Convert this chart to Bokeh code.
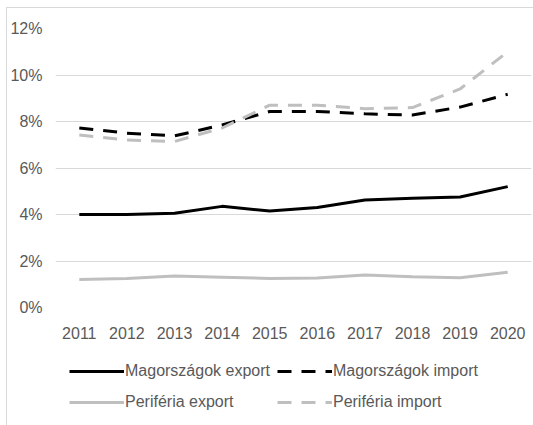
from bokeh.plotting import figure
from bokeh.layouts import column
from bokeh.models import (FactorRange, Range1d, FixedTicker, PrintfTickFormatter,
                          Legend, LegendItem)
from bokeh.embed import file_html
from bokeh.resources import INLINE

years = ["2011", "2012", "2013", "2014", "2015", "2016", "2017", "2018", "2019", "2020"]
mag_export = [4.0, 4.0, 4.05, 4.35, 4.15, 4.3, 4.62, 4.7, 4.75, 5.2]
mag_import = [7.72, 7.5, 7.38, 7.85, 8.43, 8.43, 8.33, 8.28, 8.62, 9.17]
per_export = [1.2, 1.25, 1.35, 1.3, 1.25, 1.27, 1.4, 1.32, 1.28, 1.52]
per_import = [7.42, 7.2, 7.14, 7.72, 8.7, 8.7, 8.55, 8.6, 9.4, 11.0]
y_ticks = [0, 2, 4, 6, 8, 10, 12]
series_names = ["Magországok export", "Magországok import", "Periféria export", "Periféria import"]

FONT = "Liberation Sans"
TXT = "#595959"
GRID = "#d9d9d9"
styles_ = [dict(line_color="#000000", line_width=3),
           dict(line_color="#000000", line_width=3, line_dash="14 10"),
           dict(line_color="#bfbfbf", line_width=3),
           dict(line_color="#bfbfbf", line_width=3, line_dash="14 10")]
series = [mag_export, mag_import, per_export, per_import]

# main chart
p = figure(frame_width=476, frame_height=279, x_range=FactorRange(factors=years, range_padding=0),
           y_range=Range1d(0, 12), output_backend="svg", toolbar_location=None,
           min_border_left=47, min_border_right=3, min_border_top=20, min_border_bottom=40)
p.outline_line_color = None

p.xgrid.grid_line_color = None
p.ygrid.grid_line_color = GRID
p.ygrid.grid_line_width = 1
p.yaxis.ticker = FixedTicker(ticks=y_ticks)
p.yaxis.formatter = PrintfTickFormatter(format="%d%%")
for ax in (p.xaxis[0], p.yaxis[0]):
    ax.axis_line_color = None
    ax.major_tick_line_color = None
    ax.minor_tick_line_color = None
    ax.major_label_text_font = FONT
    ax.major_label_text_font_size = "16px"
    ax.major_label_text_color = TXT
p.yaxis.major_tick_out = 0
p.yaxis.major_tick_in = 0
p.yaxis.minor_tick_out = 0
p.yaxis.major_label_standoff = 13
p.xaxis.major_label_standoff = 13

for vals, st in zip(series, styles_):
    p.line(years, vals, **st)

# legend strip below the chart
q = figure(width=526, height=78, x_range=FactorRange(factors=years), y_range=Range1d(0, 1),
           x_axis_type=None, y_axis_type=None, output_backend="svg", toolbar_location=None,
           min_border=0)
q.outline_line_color = None
q.grid.visible = False

items = []
for name, vals, st in zip(series_names, series, styles_):
    r = q.line(years, vals, visible=False, **st)
    items.append(LegendItem(label=name, renderers=[r]))

legend = Legend(items=items, orientation="horizontal", nrows=2, location=(14, 11),
                padding=0, margin=0,
                glyph_width=55, glyph_height=24, label_height=24, label_width=140,
                label_standoff=1, spacing=7,
                label_text_font=FONT, label_text_font_size="16px", label_text_color=TXT,
                background_fill_alpha=0, border_line_color=None, inactive_fill_alpha=0)
q.add_layout(legend, "center")

layout = column(p, q, spacing=0,
                styles={"margin-left": "6px", "margin-top": "7px",
                        "border-left": "1px solid #d9d9d9", "border-top": "1px solid #d9d9d9"})

open("out.html", "w").write(file_html(layout, INLINE))
